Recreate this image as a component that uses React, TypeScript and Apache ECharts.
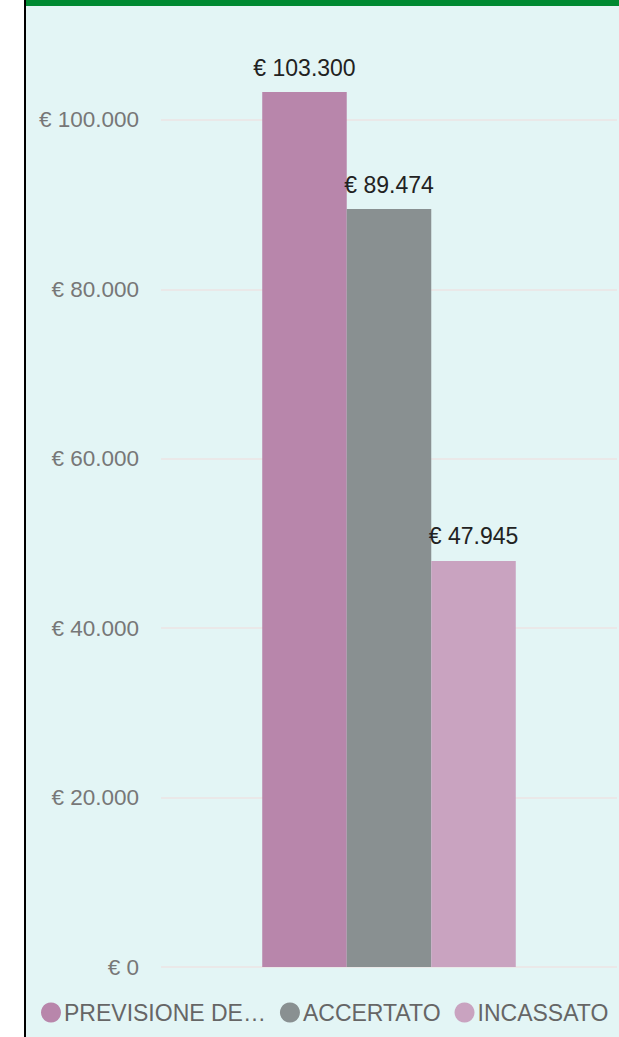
import React, { useEffect, useRef } from "react";
import * as echarts from "echarts";

const categories = ["Entrate"];
const seriesNames = ["PREVISIONE DEFINITIVA", "ACCERTATO", "INCASSATO"];
const previsione = [103300];
const accertato = [89474];
const incassato = [47945];
const colors = ["#b886ab", "#899091", "#c9a3c0"];

const fmt = (v: number) =>
  "€ " + String(Math.round(v)).replace(/\B(?=(\d{3})+(?!\d))/g, ".");

const FONT = "Arial, 'Liberation Sans', sans-serif";

export default function App() {
  const ref = useRef<HTMLDivElement>(null);
  useEffect(() => {
    if (!ref.current) return;
    const chart = echarts.init(ref.current, undefined, { renderer: "svg" });
    const values = [previsione, accertato, incassato];
    chart.setOption({
      animation: false,
      textStyle: { fontFamily: FONT },
      grid: { left: 161, right: 2, top: 92, bottom: 70, containLabel: false },
      legend: {
        left: 41,
        top: 1001,
        padding: 0,
        icon: "circle",
        itemWidth: 20,
        itemHeight: 20,
        itemGap: 14,
        textStyle: {
          fontSize: 23,
          color: "#666666",
          fontFamily: FONT,
          width: 206,
          overflow: "truncate",
          ellipsis: "…",
          padding: [0, 0, 0, -2],
        },
        data: seriesNames,
      },
      xAxis: {
        type: "category",
        data: categories,
        axisLine: { show: false },
        axisTick: { show: false },
        axisLabel: { show: false },
      },
      yAxis: {
        type: "value",
        min: 0,
        max: 103300,
        interval: 20000,
        axisLine: { show: false },
        axisTick: { show: false },
        axisLabel: {
          formatter: (v: number) => fmt(v),
          fontSize: 22.5,
          color: "#777777",
          margin: 22,
          showMaxLabel: false,
          fontFamily: FONT,
        },
        splitLine: {
          showMaxLine: false,
          lineStyle: { color: "#eae8e8", width: 2 },
        },
      },
      series: seriesNames.map((name, i) => ({
        name,
        type: "bar",
        data: values[i],
        barGap: "0%",
        barCategoryGap: "44.4%",
        itemStyle: { color: colors[i] },
        label: {
          show: true,
          position: "top",
          distance: 13,
          fontSize: 23,
          color: "#222222",
          fontFamily: FONT,
          formatter: (p: any) => fmt(p.value),
        },
      })),
    });
    return () => chart.dispose();
  }, []);

  return (
    <div style={{ position: "fixed", left: 0, top: 0, width: 619, height: 1037, background: "#ffffff" }}>
      <div
        style={{
          position: "absolute",
          left: 24,
          top: 0,
          width: 595,
          height: 1037,
          borderLeft: "2px solid #000000",
          boxSizing: "border-box",
        }}
      >
        <div
          style={{
            position: "absolute",
            left: 0,
            top: 0,
            right: 0,
            bottom: 0,
            borderTop: "6px solid #008a32",
            background: "#e3f5f5",
            boxSizing: "border-box",
          }}
        />
      </div>
      <div ref={ref} style={{ position: "absolute", left: 0, top: 0, width: 619, height: 1037 }} />
    </div>
  );
}
